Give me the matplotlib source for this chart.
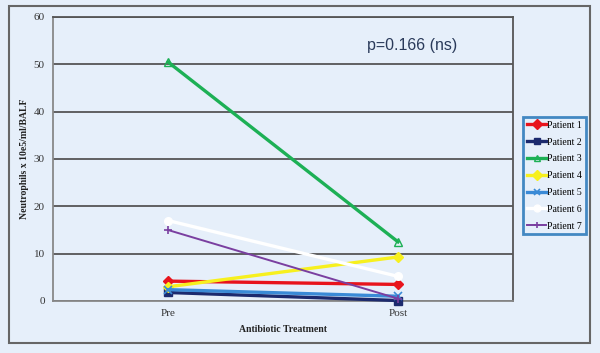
import numpy as np
import matplotlib
matplotlib.use("Agg")
import matplotlib.pyplot as plt
from matplotlib.patches import Rectangle

# data
timepoints = ["Pre", "Post"]
patients = ["Patient 1", "Patient 2", "Patient 3", "Patient 4",
            "Patient 5", "Patient 6", "Patient 7"]
pre_values = [4.2, 1.8, 50.5, 3.0, 2.4, 17.0, 15.0]
post_values = [3.5, 0.1, 12.5, 9.3, 1.0, 5.2, 0.5]

colors = ["#e8141c", "#1c2a6e", "#1db055", "#f7f01e", "#3a8ad6", "#ffffff", "#7a3fa0"]
markers = ["D", "s", "^", "D", "x", "o", "+"]

bg = "#e6effa"

fig = plt.figure(figsize=(6, 3.53), dpi=100, facecolor=bg)
ax = fig.add_axes([53/600, 1-301/353, 460/600, 284/353])
ax.set_facecolor(bg)

# outer frame
fig.patches.append(Rectangle((9/600, 1-343/353), 581/600, 337/353,
                             transform=fig.transFigure, fill=False,
                             edgecolor="#666666", lw=1.5))

x = np.arange(len(timepoints))
for i, name in enumerate(patients):
    lw = 1.4 if i == 6 else 2.4
    ax.plot(x, [pre_values[i], post_values[i]], color=colors[i], lw=lw,
            marker=markers[i], markersize=5.5,
            markeredgewidth=1.2 if markers[i] in "x+" else 1,
            markerfacecolor="none" if markers[i] == "^" else colors[i],
            markeredgecolor=colors[i], label=name, clip_on=False, zorder=3)

ax.set_xlim(-0.5, 1.5)
ax.set_ylim(0, 60)
ax.set_yticks(range(0, 61, 10))
ax.set_xticks(x)
ax.set_xticklabels(timepoints)
ax.yaxis.grid(True, color="#555555", lw=1.3)
ax.set_axisbelow(True)
ax.tick_params(length=0, labelsize=8, labelcolor="#333333", pad=6)
for lab in ax.get_xticklabels() + ax.get_yticklabels():
    lab.set_family("Liberation Serif")
for side in ["top", "right", "left", "bottom"]:
    ax.spines[side].set_color("#555555")
    ax.spines[side].set_linewidth(1.3)
ax.spines["left"].set_color("#888888")
ax.spines["bottom"].set_color("#888888")

ax.set_ylabel("Neutrophils x 10e5/ml/BALF", family="Liberation Serif",
              fontweight="bold", fontsize=7, color="#222222", labelpad=3)
ax.set_xlabel("Antibiotic Treatment", family="Liberation Serif",
              fontweight="bold", fontsize=7, color="#222222", labelpad=5)

ax.text(0.78, 0.90, "p=0.166 (ns)", transform=ax.transAxes, ha="center",
        va="center", fontsize=11.5, family="Liberation Sans", color="#2a3a5a")

leg = fig.legend(loc="upper left", bbox_to_anchor=(523/600, 1-117/353),
                 prop={"family": "Liberation Serif", "size": 7},
                 frameon=True, fancybox=False, handlelength=2.0,
                 handletextpad=0.1, borderpad=0.4, labelspacing=0.8,
                 borderaxespad=0, markerscale=0.9)
leg.get_frame().set_edgecolor("#1a6fb5")
leg.get_frame().set_linewidth(2)
leg.get_frame().set_facecolor(bg)

fig.savefig("out.png", dpi=100, facecolor=bg)
